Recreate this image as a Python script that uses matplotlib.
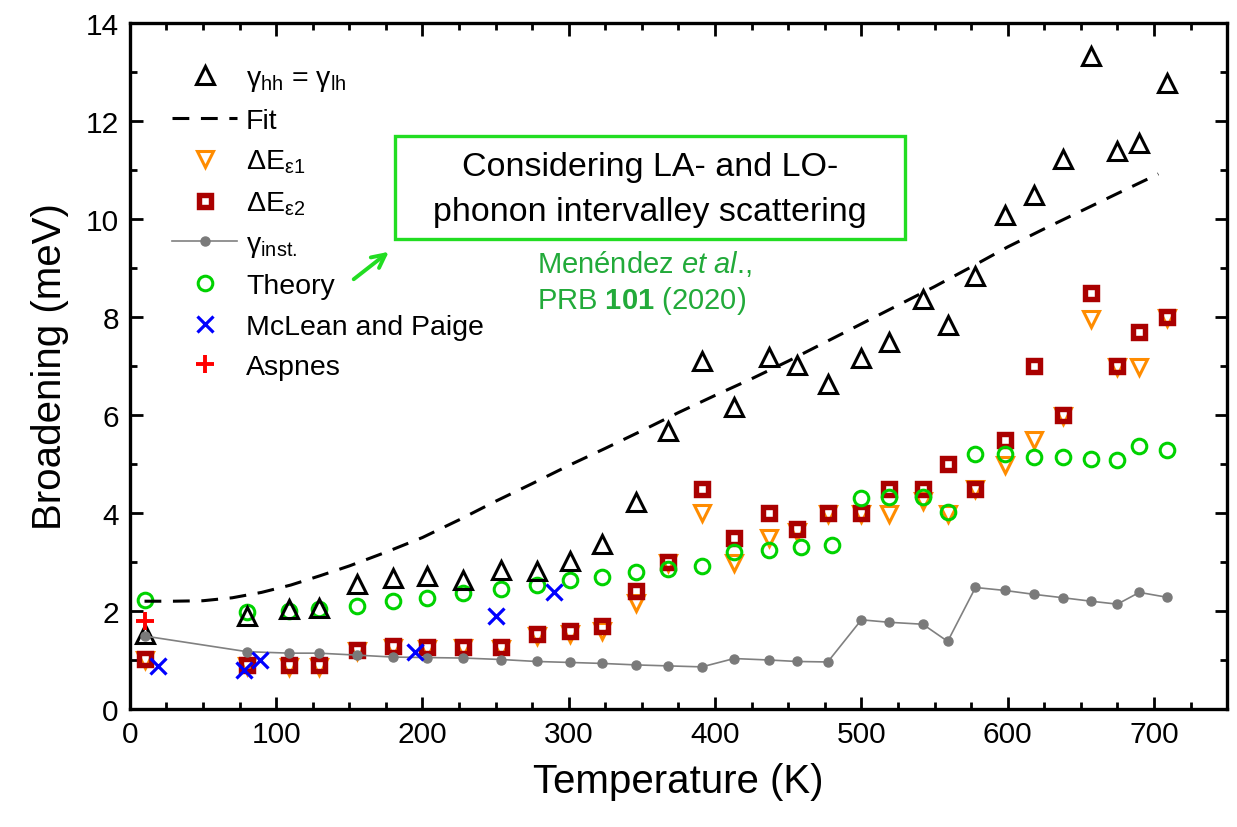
import numpy as np
import matplotlib
matplotlib.use("Agg")
import matplotlib.pyplot as plt
from matplotlib.patches import Rectangle
from matplotlib.ticker import MultipleLocator

plt.rcParams['font.family'] = ['Liberation Sans', 'DejaVu Sans']
plt.rcParams['mathtext.fontset'] = 'custom'
plt.rcParams['mathtext.rm'] = 'Liberation Sans'
plt.rcParams['mathtext.it'] = 'Liberation Sans:italic'
plt.rcParams['mathtext.bf'] = 'Liberation Sans:bold'
plt.rcParams['mathtext.default'] = 'regular'

# Temperatures of the measurements (K)
temp = [10, 80, 109, 129, 155, 180, 203, 228, 254, 278, 301, 323, 346, 368, 391,
        413, 437, 456, 477, 500, 519, 542, 559, 578, 598, 618, 638, 657, 675, 690, 709]

# gamma_hh = gamma_lh (meV)
gamma_hh = [1.53, 1.89, 2.04, 2.06, 2.55, 2.67, 2.71, 2.64, 2.84, 2.82, 3.03, 3.37, 4.23, 5.68, 7.10,
            6.17, 7.18, 7.02, 6.63, 7.17, 7.48, 8.37, 7.84, 8.84, 10.09, 10.50, 11.22, 13.33, 11.39, 11.56, 12.78]

# Delta E eps1 and eps2 (meV)
de_eps1 = [1.00, 0.88, 0.86, 0.86, 1.18, 1.24, 1.22, 1.24, 1.22, 1.50, 1.53, 1.60, 2.16, 2.98, 4.00,
           2.98, 3.48, 3.62, 3.98, 3.97, 3.97, 4.25, 3.98, 4.48, 4.98, 5.48, 5.98, 7.95, 6.98, 6.97, 7.98]
de_eps2 = [1.02, 0.90, 0.90, 0.90, 1.21, 1.28, 1.26, 1.26, 1.26, 1.54, 1.60, 1.70, 2.41, 3.00, 4.50,
           3.50, 4.00, 3.68, 4.00, 4.00, 4.50, 4.50, 5.00, 4.50, 5.50, 7.00, 6.00, 8.50, 7.00, 7.70, 8.00]

# instrumental broadening (meV)
gamma_inst = [1.49, 1.17, 1.14, 1.14, 1.10, 1.06, 1.05, 1.04, 1.01, 0.97, 0.95, 0.93, 0.90, 0.88, 0.86,
              1.03, 1.00, 0.97, 0.96, 1.82, 1.77, 1.73, 1.38, 2.48, 2.42, 2.34, 2.27, 2.20, 2.14, 2.38, 2.28]

# theory
temp_theory = [10, 80, 109, 129, 155, 180, 203, 228, 254, 278, 301, 323, 346, 368, 391,
               413, 437, 459, 480, 500, 519, 542, 559, 578, 598, 618, 638, 657, 675, 690, 709]
theory = [2.22, 1.98, 2.00, 2.04, 2.11, 2.20, 2.27, 2.36, 2.45, 2.53, 2.64, 2.70, 2.79, 2.86, 2.92,
          3.21, 3.25, 3.31, 3.34, 4.30, 4.33, 4.33, 4.02, 5.20, 5.20, 5.14, 5.14, 5.11, 5.09, 5.36, 5.28]

# literature data
temp_mclean = [19, 78, 89, 195, 250, 290]
mclean = [0.88, 0.80, 1.01, 1.17, 1.89, 2.39]
temp_aspnes = [10]
aspnes = [1.80]

# fit curve
temp_fit = [10, 30, 50, 70, 90, 110, 130, 150, 175, 200, 225, 250, 275, 300, 325, 350,
            375, 400, 425, 450, 475, 500, 525, 550, 575, 600, 625, 650, 675, 703]
fit = [2.20, 2.20, 2.21, 2.27, 2.38, 2.53, 2.72, 2.92, 3.20, 3.50, 3.86, 4.24, 4.60, 4.97, 5.32, 5.68,
       6.05, 6.40, 6.74, 7.10, 7.48, 7.86, 8.24, 8.62, 9.02, 9.43, 9.80, 10.16, 10.52, 10.92]

GREEN = '#00d200'
BOX_GREEN = '#22dd22'
CITE_GREEN = '#22aa3a'
ORANGE = '#ff8c00'
DARKRED = '#aa0000'

fig = plt.figure(figsize=(12.37, 8.28), dpi=100)
ax = fig.add_axes([0.105, 0.1425, 0.887, 0.8285])

h_e1, = ax.plot(temp, de_eps1, 'v', ls='none', ms=12, mfc='none', mec=ORANGE, mew=2.2, zorder=2)
h_e2, = ax.plot(temp, de_eps2, 's', ls='none', ms=8.2, mfc='none', mec=DARKRED, mew=3.9, zorder=2.1)
h_th, = ax.plot(temp_theory, theory, 'o', ls='none', ms=10.5, mfc='none', mec=GREEN, mew=2.2, zorder=2.2)
h_hh, = ax.plot(temp, gamma_hh, '^', ls='none', ms=13, mfc='none', mec='black', mew=2.2, zorder=2.3)
h_fit, = ax.plot(temp_fit, fit, color='black', lw=2.2, ls=(0, (5.5, 3.8)), zorder=2.4)
h_inst, = ax.plot(temp, gamma_inst, '-o', color='#808080', lw=1.2, ms=6.5,
                  mec='#7a7a7a', mfc='#7a7a7a', zorder=2.5)
h_mc, = ax.plot(temp_mclean, mclean, 'x', ls='none', ms=11, mec='#0000ff', mew=2.3, zorder=2.6)
h_as, = ax.plot(temp_aspnes, aspnes, '+', ls='none', ms=13, mec='#ff0000', mew=2.8, zorder=2.7)

ax.set_xlim(0, 750)
ax.set_ylim(0, 14)
ax.xaxis.set_major_locator(MultipleLocator(100))
ax.xaxis.set_minor_locator(MultipleLocator(25))
ax.yaxis.set_major_locator(MultipleLocator(2))
ax.yaxis.set_minor_locator(MultipleLocator(1))
ax.tick_params(which='both', direction='in', top=True, right=True, width=2.0, labelsize=21.5)
ax.tick_params(which='major', length=9, pad=8)
ax.tick_params(which='minor', length=5)
for sp in ax.spines.values():
    sp.set_linewidth(2.4)

ax.set_xlabel('Temperature (K)', fontsize=29, labelpad=10)
ax.set_ylabel('Broadening (meV)', fontsize=29, labelpad=12)

handles = [h_hh, h_fit, h_e1, h_e2, h_inst, h_th, h_mc, h_as]
labels = [r'γ$_{\mathrm{hh}}$ = γ$_{\mathrm{lh}}$', 'Fit', r'ΔE$_{ε1}$', r'ΔE$_{ε2}$',
          r'γ$_{\mathrm{inst.}}$', 'Theory', 'McLean and Paige', 'Aspnes']
ax.legend(handles, labels, loc='upper left', bbox_to_anchor=(0.028, 0.955), frameon=False,
          fontsize=20.5, handlelength=2.3, handletextpad=0.3, labelspacing=0.5,
          borderaxespad=0, numpoints=1)

# note about the theory
ax.add_patch(Rectangle((0.2416, 0.685), 0.4649, 0.150, transform=ax.transAxes,
                       fill=False, ec=BOX_GREEN, lw=2.4, zorder=5))
ax.text(0.474, 0.758, 'Considering LA- and LO-\nphonon intervalley scattering',
        transform=ax.transAxes, ha='center', va='center', fontsize=24.5, linespacing=1.6)
ax.text(0.371, 0.672, 'Menéndez $\\mathit{et\\ al}$.,\nPRB $\\mathbf{101}$ (2020)',
        transform=ax.transAxes, ha='left', va='top', fontsize=21, color=CITE_GREEN,
        linespacing=1.27)
ax.annotate('', xy=(0.238, 0.669), xytext=(0.202, 0.624), xycoords='axes fraction',
            arrowprops=dict(arrowstyle='->', color=BOX_GREEN, lw=2.8, mutation_scale=24))

plt.savefig('out.png', dpi=100)
